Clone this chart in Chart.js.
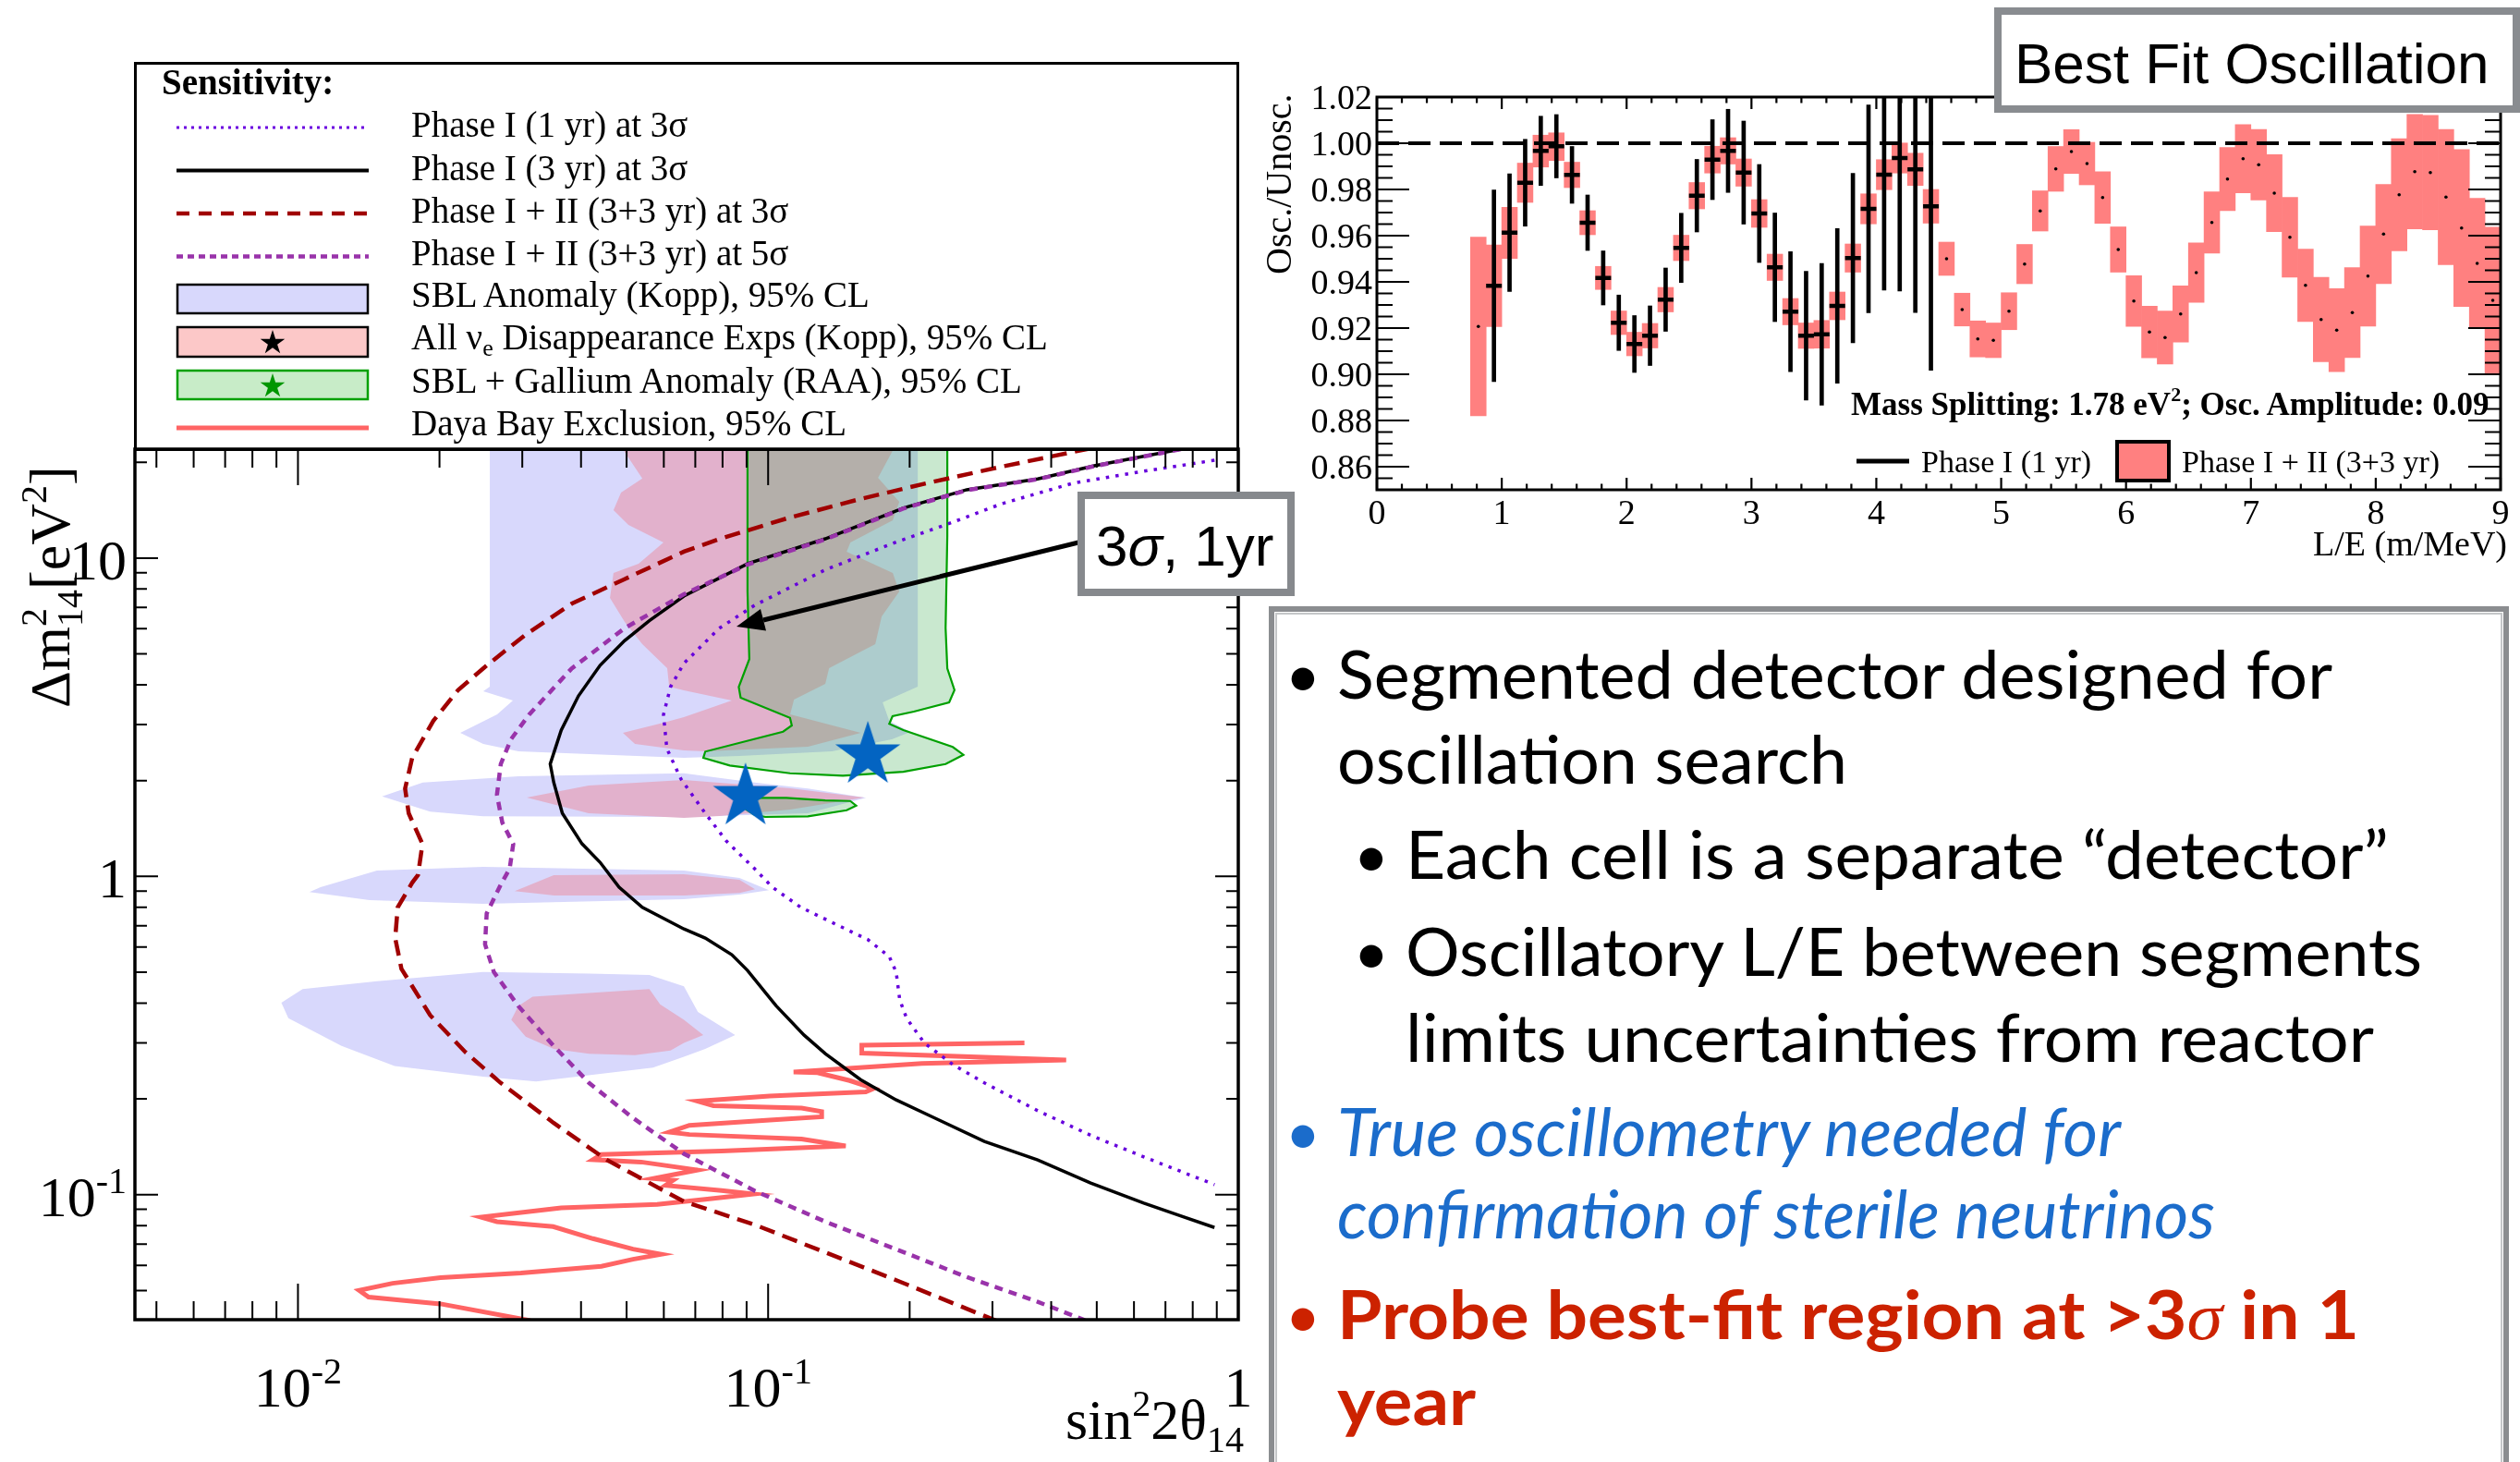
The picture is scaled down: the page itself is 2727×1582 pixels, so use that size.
<!DOCTYPE html>
<html><head><meta charset="utf-8">
<script src="https://cdn.jsdelivr.net/npm/chart.js@4.4.1/dist/chart.umd.min.js"></script>
<style>
html,body{margin:0;padding:0;background:#fff;}
#stage{position:relative;width:2727px;height:1582px;overflow:hidden;background:#fff;}
canvas{position:absolute;top:0;}
#cL{left:0;width:1400px;height:1582px;}
#cR{left:1355px;width:1372px;height:640px;}
#ov{position:absolute;left:0;top:0;}
</style></head>
<body><div id="stage">
<canvas id="cL" width="1400" height="1582"></canvas>
<canvas id="cR" width="1372" height="640"></canvas>
<svg id="ov" width="2727" height="1582" viewBox="0 0 2727 1582" xmlns="http://www.w3.org/2000/svg">
<g font-family="Liberation Serif" fill="#000">
 <rect x="146.5" y="68.5" width="1193" height="418" fill="none" stroke="#000" stroke-width="3"/>
 <text x="175" y="102" font-size="39" font-weight="bold">Sensitivity:</text>
 <line x1="191" y1="138" x2="399" y2="138" stroke="#6a00e0" stroke-width="3" stroke-dasharray="3 5"/>
 <text x="445" y="148" font-size="39">Phase I (1 yr) at 3σ</text>
 <line x1="191" y1="184.5" x2="399" y2="184.5" stroke="#000" stroke-width="4"/>
 <text x="445" y="194.5" font-size="39">Phase I (3 yr) at 3σ</text>
 <line x1="191" y1="231" x2="399" y2="231" stroke="#a00000" stroke-width="4.5" stroke-dasharray="14 10"/>
 <text x="445" y="240.5" font-size="39">Phase I + II (3+3 yr) at 3σ</text>
 <line x1="191" y1="277.5" x2="399" y2="277.5" stroke="#9933aa" stroke-width="4.5" stroke-dasharray="7 5"/>
 <text x="445" y="287" font-size="39">Phase I + II (3+3 yr) at 5σ</text>
 <rect x="192" y="308" width="206" height="31" fill="#d8d8fc" stroke="#000" stroke-width="2.5"/>
 <text x="445" y="332" font-size="39">SBL Anomaly (Kopp), 95% CL</text>
 <rect x="192" y="354" width="206" height="32" fill="#fcc8c8" stroke="#000" stroke-width="2.5"/>
 <polygon id="legStar1" fill="#000"/>
 <text x="445" y="378" font-size="39">All ν<tspan font-size="26" dy="7">e</tspan><tspan dy="-7"> Disappearance Exps (Kopp), 95% CL</tspan></text>
 <rect x="192" y="401" width="206" height="31" fill="#c8ecc8" stroke="#00a000" stroke-width="2.5"/>
 <polygon id="legStar2" fill="#009600"/>
 <text x="445" y="425" font-size="39">SBL + Gallium Anomaly (RAA), 95% CL</text>
 <line x1="191" y1="463" x2="399" y2="463" stroke="#ff6464" stroke-width="5"/>
 <text x="445" y="471" font-size="39">Daya Bay Exclusion, 95% CL</text>
</g>
<!-- text panel -->
<rect x="1376" y="659" width="1336" height="980" fill="none" stroke="#8b8d90" stroke-width="6"/>
<rect x="1381" y="664" width="1326" height="970" fill="none" stroke="#c4c6c8" stroke-width="2"/>
<g font-family="Lato" font-size="72" fill="#000">
 <text x="1410" y="754" font-size="66" text-anchor="middle">•</text>
 <text x="1447" y="756" textLength="1077" lengthAdjust="spacingAndGlyphs">Segmented detector designed for</text>
 <text x="1447" y="848" textLength="552" lengthAdjust="spacingAndGlyphs">oscillation search</text>
 <text x="1484" y="949" font-size="66" text-anchor="middle">•</text>
 <text x="1521" y="951" textLength="1064" lengthAdjust="spacingAndGlyphs">Each cell is a separate “detector”</text>
 <text x="1484" y="1054" font-size="66" text-anchor="middle">•</text>
 <text x="1521" y="1056" textLength="1100" lengthAdjust="spacingAndGlyphs">Oscillatory L/E between segments</text>
 <text x="1521" y="1149" textLength="1048" lengthAdjust="spacingAndGlyphs">limits uncertainties from reactor</text>
 <text x="1410" y="1249" font-size="66" text-anchor="middle" fill="#1b6ccb">•</text>
 <text x="1447" y="1251" fill="#1b6ccb" font-style="italic" textLength="848" lengthAdjust="spacingAndGlyphs">True oscillometry needed for</text>
 <text x="1447" y="1340" fill="#1b6ccb" font-style="italic" textLength="950" lengthAdjust="spacingAndGlyphs">confirmation of sterile neutrinos</text>
 <text x="1410" y="1447" font-size="66" text-anchor="middle" fill="#cc2200">•</text>
 <text x="1447" y="1449" fill="#cc2200" font-weight="bold" textLength="1106" lengthAdjust="spacingAndGlyphs">Probe best-fit region at &gt;3<tspan font-family="Liberation Serif" font-style="italic" font-weight="normal">σ</tspan> in 1</text>
 <text x="1447" y="1542" fill="#cc2200" font-weight="bold" textLength="150" lengthAdjust="spacingAndGlyphs">year</text>
</g>
<!-- callout on left plot -->
<line x1="1167" y1="587" x2="826" y2="671" stroke="#000" stroke-width="5"/>
<polygon points="797,678 829,682.5 823,659" fill="#000"/>
<rect x="1170" y="536" width="227" height="105" fill="#fff" stroke="#86898d" stroke-width="8"/>
<text x="1186" y="612" font-family="Liberation Sans" font-size="62">3<tspan font-style="italic">σ</tspan>, 1yr</text>
<!-- right panel annotations -->
<rect x="2162" y="12" width="561" height="106" fill="#fff" stroke="#898c90" stroke-width="8"/>
<text x="2180" y="90" font-family="Liberation Sans" font-size="62">Best Fit Oscillation</text>
<text x="2003" y="449" font-family="Liberation Serif" font-weight="bold" font-size="35">Mass Splitting: 1.78 eV<tspan font-size="22" dy="-15">2</tspan><tspan dy="15">; Osc. Amplitude: 0.09</tspan></text>
<line x1="2009" y1="499" x2="2066" y2="499" stroke="#000" stroke-width="5"/>
<text x="2079" y="511" font-size="34" font-family="Liberation Serif">Phase I (1 yr)</text>
<rect x="2291" y="478" width="56" height="42" fill="#ff8080" stroke="#000" stroke-width="4"/>
<text x="2361" y="511" font-size="34" font-family="Liberation Serif">Phase I + II (3+3 yr)</text>
</svg>
</div>
<script>
// ================= LEFT PANEL DATA (x = sin^2 2θ14, y = Δm^2_14 [eV^2]) =================
const sinTickValues = [0.01, 0.1, 1];
const sinTickLabels = [['10', '-2'], ['10', '-1'], ['1', '']];
const dmTickValues = [0.1, 1, 10];
const dmTickLabels = [['10', '-1'], ['1', ''], ['10', '']];

// Phase I (1 yr) at 3σ
const p1yr3s_x = [0.890, 0.6296, 0.4452, 0.3148, 0.2384, 0.1872, 0.1323, 0.0936, 0.0787, 0.0662, 0.0620, 0.0599, 0.0609, 0.0653, 0.0735, 0.0815, 0.0936, 0.1021, 0.1173, 0.1370, 0.1630, 0.1810, 0.1872, 0.1905, 0.1970, 0.2148, 0.2470, 0.2884, 0.3743, 0.4853, 0.6296, 0.890];
const p1yr3s_y = [20.3, 18.75, 17.2, 14.84, 12.72, 11.23, 9.19, 7.11, 6.02, 4.67, 3.94, 3.22, 2.52, 2.02, 1.579, 1.292, 1.057, 0.925, 0.800, 0.716, 0.633, 0.560, 0.5007, 0.410, 0.3585, 0.300, 0.2566, 0.2245, 0.1837, 0.1537, 0.1315, 0.1076];
// Phase I (3 yr) at 3σ
const p3yr3s_x = [0.87, 0.494, 0.3743, 0.2646, 0.1936, 0.1323, 0.0905, 0.0662, 0.0559, 0.0495, 0.0439, 0.0395, 0.0363, 0.0344, 0.0350, 0.0365, 0.0402, 0.0439, 0.0482, 0.0540, 0.0662, 0.0735, 0.0837, 0.0904, 0.1039, 0.1193, 0.1323, 0.1572, 0.1872, 0.2228, 0.2884, 0.3743, 0.4853, 0.6296, 0.7485, 0.890];
const p3yr3s_y = [22.9, 19.5, 17.74, 16.4, 14.35, 11.5, 9.61, 7.60, 6.36, 5.50, 4.60, 3.69, 2.88, 2.255, 1.973, 1.579, 1.266, 1.108, 0.925, 0.800, 0.684, 0.640, 0.5675, 0.5066, 0.3928, 0.3172, 0.2774, 0.230, 0.1986, 0.176, 0.147, 0.1286, 0.1088, 0.0941, 0.0861, 0.0789];
// Phase I + II (3+3 yr) at 3σ
const p12_3s_x = [0.5435, 0.3148, 0.2228, 0.1574, 0.1113, 0.0787, 0.0662, 0.0495, 0.0382, 0.0305, 0.0252, 0.0219, 0.0194, 0.0175, 0.0169, 0.0172, 0.0184, 0.0180, 0.0175, 0.0163, 0.0161, 0.0166, 0.0191, 0.0227, 0.0270, 0.0350, 0.0454, 0.0662, 0.0936, 0.1323, 0.1872, 0.327];
const p12_3s_y = [22.9, 19.4, 17.34, 15.35, 13.42, 11.48, 10.48, 8.59, 7.19, 5.75, 4.60, 3.85, 3.08, 2.36, 1.888, 1.579, 1.264, 1.010, 0.956, 0.800, 0.640, 0.5126, 0.3667, 0.2806, 0.2245, 0.168, 0.1286, 0.0952, 0.0805, 0.0659, 0.0539, 0.0386];
// Phase I + II (3+3 yr) at 5σ
const p12_5s_x = [0.87, 0.494, 0.3743, 0.2646, 0.1936, 0.1323, 0.0905, 0.0662, 0.0495, 0.0382, 0.0310, 0.0284, 0.0270, 0.0265, 0.0272, 0.0287, 0.0282, 0.0270, 0.0252, 0.0250, 0.0261, 0.0294, 0.0350, 0.0416, 0.0512, 0.0662, 0.0936, 0.1323, 0.1872, 0.2648, 0.3743, 0.469, 0.50];
const p12_5s_y = [22.9, 19.45, 17.7, 16.35, 14.3, 11.45, 9.55, 7.70, 6.02, 4.50, 3.22, 2.70, 2.255, 1.805, 1.477, 1.264, 1.057, 0.943, 0.765, 0.612, 0.5007, 0.392, 0.2934, 0.2245, 0.1757, 0.1345, 0.1029, 0.0823, 0.0674, 0.0551, 0.0461, 0.0405, 0.0385];
// Daya Bay exclusion, 95% CL
const dayaBay_x = [0.3509, 0.1582, 0.1582, 0.4304, 0.2123, 0.1133, 0.1274, 0.1491, 0.1678, 0.1613, 0.1007, 0.0708, 0.0765, 0.1178, 0.1300, 0.1300, 0.1007, 0.0680, 0.0616, 0.0680, 0.1178, 0.1462, 0.0796, 0.0442, 0.0424, 0.0537, 0.0708, 0.0570, 0.0628, 0.0605, 0.0796, 0.0931, 0.0735, 0.0581, 0.0363, 0.0245, 0.0265, 0.0349, 0.0424, 0.0516, 0.0593, 0.0516, 0.0442, 0.0298, 0.0201, 0.0159, 0.01349, 0.01413, 0.0201, 0.0310, 0.0330];
const dayaBay_y = [0.300, 0.2949, 0.2786, 0.2652, 0.2585, 0.2428, 0.2417, 0.2284, 0.2157, 0.2104, 0.2041, 0.1967, 0.1904, 0.1871, 0.1825, 0.1758, 0.1715, 0.1652, 0.1573, 0.1546, 0.1497, 0.1423, 0.1372, 0.1338, 0.1289, 0.1267, 0.1196, 0.1124, 0.1111, 0.1070, 0.1031, 0.1005, 0.0968, 0.0933, 0.0910, 0.0851, 0.0823, 0.0794, 0.0728, 0.0675, 0.0650, 0.0627, 0.0596, 0.0568, 0.0549, 0.0527, 0.0501, 0.0477, 0.0454, 0.0403, 0.0390];
// SBL Anomaly (Kopp) 95% CL regions
const sblA_x = [0.02559, 0.02559, 0.02478, 0.02865, 0.02653, 0.02214, 0.02478, 0.02944, 0.0662, 0.0869, 0.1366, 0.1833, 0.2007, 0.181, 0.1752, 0.2081, 0.2081];
const sblA_y = [22.9, 3.948, 3.818, 3.570, 3.229, 2.826, 2.608, 2.472, 2.358, 2.390, 2.472, 2.696, 2.844, 3.083, 3.524, 3.948, 22.9];
const sblB_x = [0.0151, 0.01843, 0.02944, 0.0662, 0.0936, 0.1215, 0.1615, 0.1215, 0.0662, 0.02474, 0.0191];
const sblB_y = [1.785, 1.973, 2.063, 2.109, 1.973, 1.888, 1.766, 1.579, 1.538, 1.545, 1.597];
const sblC_x = [0.01058, 0.01117, 0.01473, 0.02478, 0.0662, 0.0869, 0.1004, 0.0869, 0.0662, 0.02478, 0.0142];
const sblC_y = [0.894, 0.925, 1.043, 1.071, 1.043, 0.989, 0.906, 0.877, 0.848, 0.820, 0.842];
const sblD_x = [0.00922, 0.01023, 0.01473, 0.02474, 0.0416, 0.0559, 0.0662, 0.0709, 0.0851, 0.0735, 0.0662, 0.0569, 0.0321, 0.02474, 0.01605, 0.01238, 0.00954];
const sblD_y = [0.401, 0.443, 0.4686, 0.5007, 0.4955, 0.490, 0.452, 0.375, 0.3172, 0.287, 0.2714, 0.251, 0.227, 0.2348, 0.2539, 0.2934, 0.3585];
// All νe disappearance (Kopp) 95% CL regions
const disA_x = [0.0482, 0.054, 0.04866, 0.0469, 0.05045, 0.0599, 0.05303, 0.0469, 0.04609, 0.04955, 0.054, 0.061, 0.0616, 0.0662, 0.0837, 0.0662, 0.0599, 0.0491, 0.0521, 0.0662, 0.0735, 0.1215, 0.1574, 0.1114, 0.1135, 0.1323, 0.1348, 0.169, 0.1744, 0.1901, 0.1841, 0.1469, 0.1496, 0.1841, 0.1901, 0.1713, 0.1875];
const disA_y = [22.9, 17.78, 16.08, 14.16, 12.72, 11.2, 9.61, 8.98, 7.50, 6.30, 5.37, 4.51, 3.948, 3.844, 3.570, 3.166, 3.041, 2.826, 2.608, 2.488, 2.472, 2.555, 2.826, 3.229, 3.594, 4.027, 4.51, 5.37, 6.56, 7.86, 8.98, 10.48, 11.2, 13.15, 15.04, 17.89, 22.9];
const disB_x = [0.03066, 0.04152, 0.0662, 0.1114, 0.16, 0.1114, 0.0787, 0.0662, 0.04152];
const disB_y = [1.769, 1.930, 2.009, 1.892, 1.769, 1.622, 1.548, 1.527, 1.579];
const disC_x = [0.02891, 0.035, 0.0662, 0.0869, 0.0938, 0.0869, 0.0662, 0.0351];
const disC_y = [0.900, 1.009, 1.016, 0.976, 0.912, 0.888, 0.871, 0.871];
const disD_x = [0.02843, 0.02944, 0.03155, 0.0559, 0.0589, 0.0662, 0.0728, 0.0662, 0.062, 0.0521, 0.0416, 0.035, 0.0305];
const disD_y = [0.3547, 0.392, 0.419, 0.443, 0.3963, 0.3547, 0.3172, 0.300, 0.2837, 0.2744, 0.2774, 0.287, 0.3136];
// SBL + Gallium anomaly (RAA) 95% CL regions
const galA_x = [0.0904, 0.0904, 0.0912, 0.0866, 0.0874, 0.1113, 0.1123, 0.1076, 0.0735, 0.0728, 0.0829, 0.1113, 0.1442, 0.1939, 0.2385, 0.2602, 0.247, 0.1939, 0.181, 0.1839, 0.2042, 0.2427, 0.2491, 0.2405, 0.2385, 0.2405, 0.2405];
const galA_y = [22.9, 7.86, 4.815, 3.94, 3.642, 3.151, 2.981, 2.850, 2.467, 2.358, 2.231, 2.109, 2.073, 2.133, 2.255, 2.411, 2.551, 2.883, 3.015, 3.187, 3.296, 3.524, 3.850, 4.50, 6.02, 11.74, 22.9];
const galB_x = [0.0904, 0.0969, 0.1094, 0.1323, 0.1495, 0.1539, 0.1469, 0.1215, 0.0986, 0.0936, 0.0893];
const galB_y = [1.726, 1.766, 1.766, 1.733, 1.726, 1.669, 1.614, 1.545, 1.538, 1.561, 1.633];
// best-fit points
const bestFit_x = [0.163, 0.0895];
const bestFit_y = [2.406, 1.781];

// ================= RIGHT PANEL DATA (L/E in m/MeV, Osc./Unosc.) =================
const leTickValues = [0, 1, 2, 3, 4, 5, 6, 7, 8, 9];
const leTickLabels = ['0', '1', '2', '3', '4', '5', '6', '7', '8', '9'];
const ratioTickValues = [0.86, 0.88, 0.90, 0.92, 0.94, 0.96, 0.98, 1.00, 1.02];
const ratioTickLabels = ['0.86', '0.88', '0.90', '0.92', '0.94', '0.96', '0.98', '1.00', '1.02'];

const phase12_LE = [0.8125, 0.9375, 1.0625, 1.1875, 1.3125, 1.4375, 1.5625, 1.6875, 1.8125, 1.9375,
  2.0625, 2.1875, 2.3125, 2.4375, 2.5625, 2.6875, 2.8125, 2.9375, 3.0625, 3.1875,
  3.3125, 3.4375, 3.5625, 3.6875, 3.8125, 3.9375, 4.0625, 4.1875, 4.3125, 4.4375,
  4.5625, 4.6875, 4.8125, 4.9375, 5.0625, 5.1875, 5.3125, 5.4375, 5.5625, 5.6875,
  5.8125, 5.9375, 6.0625, 6.1875, 6.3125, 6.4375, 6.5625, 6.6875, 6.8125, 6.9375,
  7.0625, 7.1875, 7.3125, 7.4375, 7.5625, 7.6875, 7.8125, 7.9375, 8.0625, 8.1875,
  8.3125, 8.4375, 8.5625, 8.6875, 8.8125, 8.9375];
const phase12_val = [0.9207, 0.9383, 0.9612, 0.9829, 0.9966, 0.9985, 0.9863, 0.9656, 0.9417, 0.9223,
  0.9131, 0.9167, 0.9323, 0.9547, 0.9773, 0.9929, 0.9967, 0.9873, 0.9696, 0.9463,
  0.9271, 0.9167, 0.9173, 0.9296, 0.9503, 0.9716, 0.9864, 0.9936, 0.9887, 0.9727,
  0.9500, 0.9280, 0.9153, 0.9147, 0.9273, 0.9477, 0.9707, 0.9889, 0.9964, 0.9912,
  0.9765, 0.9540, 0.9317, 0.9183, 0.9159, 0.9261, 0.9440, 0.9657, 0.9845, 0.9933,
  0.9907, 0.9784, 0.9593, 0.9385, 0.9237, 0.9191, 0.9267, 0.9425, 0.9607, 0.9777,
  0.9877, 0.9873, 0.9767, 0.9633, 0.9480, 0.9320];
const phase12_err = [0.0387, 0.0177, 0.0111, 0.0085, 0.0069, 0.0060, 0.0055, 0.0052, 0.0050, 0.0051,
  0.0051, 0.0053, 0.0053, 0.0055, 0.0057, 0.0058, 0.0057, 0.0059, 0.0060, 0.0057,
  0.0057, 0.0055, 0.0060, 0.0060, 0.0061, 0.0065, 0.0065, 0.0065, 0.0070, 0.0073,
  0.0072, 0.0071, 0.0078, 0.0075, 0.0080, 0.0085, 0.0087, 0.0097, 0.0095, 0.0092,
  0.0112, 0.0098, 0.0110, 0.0112, 0.0115, 0.0122, 0.0129, 0.0133, 0.0137, 0.0148,
  0.0153, 0.0167, 0.0173, 0.0157, 0.0183, 0.0180, 0.0195, 0.0217, 0.0215, 0.0243,
  0.0248, 0.0248, 0.0293, 0.0340, 0.0282, 0.0317];
const phase1_LE = [0.9375, 1.0625, 1.1875, 1.3125, 1.4375, 1.5625, 1.6875, 1.8125, 1.9375, 2.0625,
  2.1875, 2.3125, 2.4375, 2.5625, 2.6875, 2.8125, 2.9375, 3.0625, 3.1875, 3.3125,
  3.4375, 3.5625, 3.6875, 3.8125, 3.9375, 4.0625, 4.1875, 4.3125, 4.4375];
const phase1_val = [0.9383, 0.9613, 0.9829, 0.9967, 0.9987, 0.9863, 0.9656, 0.9417, 0.9223, 0.9131,
  0.9167, 0.9323, 0.9547, 0.9773, 0.9929, 0.9967, 0.9873, 0.9696, 0.9463, 0.9271,
  0.9167, 0.9173, 0.9296, 0.9503, 0.9716, 0.9864, 0.9936, 0.9887, 0.9727];
const phase1_err = [0.0415, 0.0255, 0.0188, 0.0150, 0.0137, 0.0123, 0.0120, 0.0117, 0.0120, 0.0123,
  0.0129, 0.0137, 0.0150, 0.0157, 0.0173, 0.0180, 0.0223, 0.0212, 0.0235, 0.0260,
  0.0279, 0.0307, 0.0335, 0.0367, 0.0450, 0.0500, 0.0576, 0.0620, 0.0710];
const unityLine_x = [0, 9];
const unityLine_y = [1.0, 1.0];

// ================= helpers =================
const SERIF = '"Liberation Serif", "Times New Roman", serif';
function pts(xs, ys) { return xs.map((x, i) => ({x: x, y: ys[i]})); }
function closed(xs, ys) { const p = pts(xs, ys); p.push({x: xs[0], y: ys[0]}); return p; }
function rich(ctx, parts, x, y, align) {
  let total = 0;
  for (const p of parts) { ctx.font = p[1] + 'px ' + SERIF; if (p[3] !== false) total += ctx.measureText(p[0]).width; }
  let cx = align === 'right' ? x - total : (align === 'center' ? x - total / 2 : x);
  ctx.textAlign = 'left'; ctx.textBaseline = 'alphabetic';
  for (const p of parts) {
    ctx.font = p[1] + 'px ' + SERIF;
    ctx.fillText(p[0], cx, y + (p[2] || 0));
    if (p[3] !== false) cx += ctx.measureText(p[0]).width;
  }
}
function starPoints(cx, cy, R) {
  const out = [];
  for (let i = 0; i < 10; i++) {
    const r = i % 2 === 0 ? R : R * 0.382;
    const a = -Math.PI / 2 + i * Math.PI / 5;
    out.push((cx + r * Math.cos(a)).toFixed(2) + ',' + (cy + r * Math.sin(a)).toFixed(2));
  }
  return out.join(' ');
}
function starCanvas(R, color) {
  const c = document.createElement('canvas');
  const s = Math.ceil(2 * R + 4); c.width = s; c.height = s;
  const g = c.getContext('2d'); g.fillStyle = color; g.beginPath();
  for (let i = 0; i < 10; i++) {
    const r = i % 2 === 0 ? R : R * 0.382;
    const a = -Math.PI / 2 + i * Math.PI / 5;
    g.lineTo(s / 2 + r * Math.cos(a), s / 2 + r * Math.sin(a));
  }
  g.closePath(); g.fill();
  return c;
}
document.getElementById('legStar1').setAttribute('points', starPoints(295, 371, 14));
document.getElementById('legStar2').setAttribute('points', starPoints(295, 418, 14));

const LAV = 'rgb(216,216,252)', PINK = 'rgb(226,177,204)', GREENF = 'rgba(60,173,81,0.28)';
function fillDS(data, color, order) {
  return {data: data, showLine: true, fill: 'shape', backgroundColor: color, borderColor: 'rgba(0,0,0,0)', borderWidth: 0, pointRadius: 0, order: order};
}
function outlineDS(data, fillc, line, order) {
  return {data: data, showLine: true, fill: 'shape', backgroundColor: fillc, borderColor: line, borderWidth: 2.2, pointRadius: 0, order: order};
}
function lineDS(data, color, width, dash, order) {
  return {data: data, showLine: true, fill: false, borderColor: color, borderWidth: width, borderDash: dash, pointRadius: 0, order: order, tension: 0};
}

// ================= LEFT CHART =================
const leftAxes = {
  id: 'leftAxes',
  afterDraw(chart) {
    const ctx = chart.ctx, a = chart.chartArea, xs = chart.scales.x, ys = chart.scales.y;
    ctx.save();
    ctx.strokeStyle = '#000'; ctx.lineWidth = 2;
    ctx.beginPath();
    for (let d = -3; d <= 1; d++) for (let m = 1; m <= 9; m++) {
      const v = m * Math.pow(10, d);
      if (v >= xs.min * 0.999 && v <= xs.max * 1.001) {
        const p = xs.getPixelForValue(v), L = m === 1 ? 39 : 20;
        ctx.moveTo(p, a.bottom); ctx.lineTo(p, a.bottom - L);
        ctx.moveTo(p, a.top); ctx.lineTo(p, a.top + L);
      }
      if (v >= ys.min && v <= ys.max) {
        const p = ys.getPixelForValue(v), L = m === 1 ? 25 : 13;
        ctx.moveTo(a.left, p); ctx.lineTo(a.left + L, p);
        ctx.moveTo(a.right, p); ctx.lineTo(a.right - L, p);
      }
    }
    ctx.stroke();
    ctx.lineWidth = 3.5;
    ctx.strokeRect(a.left, a.top, a.right - a.left, a.bottom - a.top);
    ctx.fillStyle = '#000';
    sinTickValues.forEach((v, i) => rich(ctx, [[sinTickLabels[i][0], 62, 0], [sinTickLabels[i][1], 40, -25]], xs.getPixelForValue(v), 1522, 'center'));
    dmTickValues.forEach((v, i) => rich(ctx, [[dmTickLabels[i][0], 62, 0], [dmTickLabels[i][1], 40, -25]], 137, ys.getPixelForValue(v) + 23, 'right'));
    rich(ctx, [['sin', 62, 0], ['2', 40, -25], ['2θ', 62, 0], ['14', 40, 14]], 1346, 1557, 'right');
    ctx.save(); ctx.translate(75, 766); ctx.rotate(-Math.PI / 2);
    rich(ctx, [['Δm', 62, 0], ['2', 40, -25, false], ['14', 40, 14], ['[eV', 62, 0], ['2', 40, -25], [']', 62, 0]], 0, 0, 'left');
    ctx.restore();
    ctx.restore();
  }
};

const starImg = starCanvas(37, 'rgb(3,100,194)');

new Chart(document.getElementById('cL'), {
  type: 'scatter',
  data: {datasets: [
    fillDS(closed(sblA_x, sblA_y), LAV, 100),
    fillDS(closed(sblB_x, sblB_y), LAV, 100),
    fillDS(closed(sblC_x, sblC_y), LAV, 100),
    fillDS(closed(sblD_x, sblD_y), LAV, 100),
    fillDS(closed(disA_x, disA_y), PINK, 90),
    fillDS(closed(disB_x, disB_y), PINK, 90),
    fillDS(closed(disC_x, disC_y), PINK, 90),
    fillDS(closed(disD_x, disD_y), PINK, 90),
    outlineDS(closed(galA_x, galA_y), GREENF, 'rgb(0,160,0)', 80),
    outlineDS(closed(galB_x, galB_y), GREENF, 'rgb(0,160,0)', 80),
    lineDS(pts(dayaBay_x, dayaBay_y), 'rgb(255,100,100)', 5, [], 60),
    lineDS(pts(p12_3s_x, p12_3s_y), 'rgb(160,0,0)', 4.5, [17, 9], 50),
    lineDS(pts(p3yr3s_x, p3yr3s_y), '#000', 3.5, [], 46),
    lineDS(pts(p12_5s_x, p12_5s_y), 'rgb(153,51,170)', 4.5, [9, 7], 44),
    lineDS(pts(p1yr3s_x, p1yr3s_y), 'rgb(102,0,220)', 3.5, [3.5, 7], 42),
    {data: pts(bestFit_x, bestFit_y), showLine: false, pointStyle: starImg, pointRadius: 20, order: 1}
  ]},
  options: {
    responsive: false, animation: false, devicePixelRatio: 1, events: [],
    layout: {padding: {left: 146, top: 486, right: 60, bottom: 154}},
    plugins: {legend: {display: false}, tooltip: {enabled: false}},
    scales: {
      x: {type: 'logarithmic', min: 0.0045, max: 1, display: false},
      y: {type: 'logarithmic', min: 0.0405, max: 22, display: false}
    }
  },
  plugins: [leftAxes]
});

// ================= RIGHT CHART =================
const OX = 1355;
const rightAxes = {
  id: 'rightAxes',
  afterDraw(chart) {
    const ctx = chart.ctx, a = chart.chartArea, xs = chart.scales.x, ys = chart.scales.y;
    ctx.save();
    ctx.strokeStyle = '#000'; ctx.lineWidth = 2.2;
    ctx.beginPath();
    for (let k = 0; k <= 34; k++) {
      const v = 0.85 + k * 0.005, p = ys.getPixelForValue(v), L = (k % 4 === 2) ? 35 : 17;
      ctx.moveTo(a.left, p); ctx.lineTo(a.left + L, p);
      ctx.moveTo(a.right, p); ctx.lineTo(a.right - L, p);
    }
    for (let k = 0; k <= 45; k++) {
      const v = k * 0.2, p = xs.getPixelForValue(v), L = (k % 5 === 0) ? 13 : 6.5;
      ctx.moveTo(p, a.bottom); ctx.lineTo(p, a.bottom - L);
      ctx.moveTo(p, a.top); ctx.lineTo(p, a.top + L);
    }
    ctx.stroke();
    ctx.lineWidth = 3;
    ctx.strokeRect(a.left, a.top, a.right - a.left, a.bottom - a.top);
    ctx.fillStyle = '#000';
    ctx.font = '38px ' + SERIF; ctx.textBaseline = 'alphabetic';
    ctx.textAlign = 'right';
    ratioTickValues.forEach((v, i) => ctx.fillText(ratioTickLabels[i], 1485 - OX, ys.getPixelForValue(v) + 13));
    ctx.textAlign = 'center';
    leTickValues.forEach((v, i) => ctx.fillText(leTickLabels[i], xs.getPixelForValue(v), 567));
    ctx.textAlign = 'right';
    ctx.fillText('L/E (m/MeV)', 2713 - OX, 601);
    ctx.save(); ctx.translate(1397 - OX, 297); ctx.rotate(-Math.PI / 2);
    ctx.textAlign = 'left'; ctx.font = '40px ' + SERIF;
    ctx.fillText('Osc./Unosc.', 0, 0);
    ctx.restore();
    ctx.restore();
  }
};

new Chart(document.getElementById('cR'), {
  type: 'bar',
  data: {datasets: [
    {type: 'bar', data: phase12_LE.map((x, i) => ({x: x, y: [phase12_val[i] - phase12_err[i], phase12_val[i] + phase12_err[i]]})),
     backgroundColor: 'rgb(255,128,128)', borderWidth: 0, barPercentage: 1, categoryPercentage: 1, grouped: false, order: 5},
    {type: 'scatter', data: pts(phase12_LE, phase12_val), pointRadius: 1.8, pointBackgroundColor: '#000', pointBorderWidth: 0, order: 4},
    {type: 'line', data: pts(unityLine_x, unityLine_y), borderColor: '#000', borderWidth: 4, borderDash: [24, 10], pointRadius: 0, fill: false, order: 3},
    {type: 'bar', data: phase1_LE.map((x, i) => ({x: x, y: [phase1_val[i] - phase1_err[i], phase1_val[i] + phase1_err[i]]})),
     backgroundColor: '#000', borderWidth: 0, barThickness: 4, grouped: false, order: 2},
    {type: 'scatter', data: pts(phase1_LE, phase1_val), pointStyle: 'line', pointRadius: 8.5, pointBorderWidth: 4.5, pointBorderColor: '#000', order: 1}
  ]},
  options: {
    responsive: false, animation: false, devicePixelRatio: 1, events: [],
    layout: {padding: {left: 135, top: 105, right: 21, bottom: 110}},
    plugins: {legend: {display: false}, tooltip: {enabled: false}},
    scales: {
      x: {type: 'linear', min: 0, max: 9, offset: false, display: false},
      y: {type: 'linear', min: 0.85, max: 1.02, beginAtZero: false, display: false}
    }
  },
  plugins: [rightAxes]
});
</script>
</body></html>
